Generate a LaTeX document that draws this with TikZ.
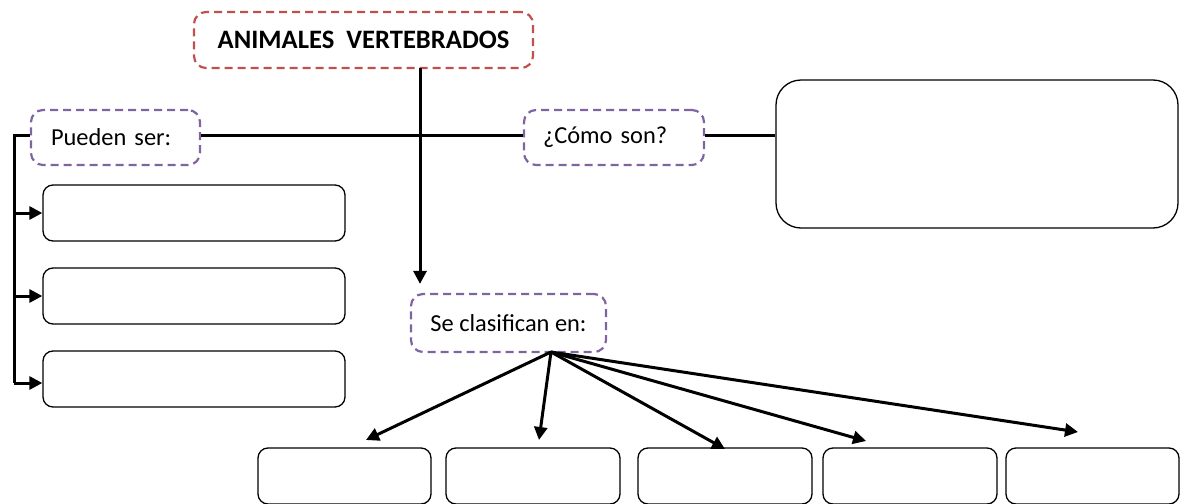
\documentclass[tikz,border=0pt]{standalone}
\usepackage{fontspec}
\setmainfont{Carlito}
\usetikzlibrary{arrows.meta}
\definecolor{rojo}{RGB}{192,80,77}
\definecolor{morado}{RGB}{128,100,162}
\begin{document}
\begin{tikzpicture}[x=0.5pt,y=-0.5pt,
    font=\fontsize{12.2}{14}\selectfont,
    titulo/.style={draw=rojo,line width=1.1pt,dash pattern=on 4pt off 2.5pt,rounded corners=6pt,
        minimum width=169.5pt,minimum height=28pt,font=\fontsize{13.3}{15}\selectfont\bfseries},
    etiqueta/.style={draw=morado,line width=1.1pt,dash pattern=on 4pt off 2.5pt,rounded corners=6pt,
        minimum height=27.5pt,align=left},
    caja/.style={draw,line width=0.65pt,rounded corners=5pt,minimum width=#1,minimum height=28pt},
    flecha/.style={line width=1.5pt,-{Triangle[length=6.5pt,width=6.5pt]}},
    linea/.style={line width=1.5pt}]
        \useasboundingbox (0,0) rectangle (1180,504);
        \node[titulo] (Titulo) at (363.5,40) {ANIMALES\ \ VERTEBRADOS};
        \node[etiqueta,minimum width=84.5pt,text width=64.5pt] (Pueden) at (115.5,137.5) {Pueden ser:};
        \node[etiqueta,minimum width=90pt,text width=71pt] (Como) at (614,137.5) {¿Cómo son?};
        \node[etiqueta,minimum width=97.5pt,minimum height=29pt,align=center] (Clasif) at (508.5,323) {Se clasifican en:};
        \node[caja=201pt,minimum height=74pt,rounded corners=12.5pt] (Desc) at (977,154) {};
        \node[caja=151pt] (Tipo1) at (194,213) {};
        \node[caja=151pt] (Tipo2) at (194,296) {};
        \node[caja=151pt] (Tipo3) at (194,379) {};
        \node[caja=86.5pt] (Clase1) at (344.5,476) {};
        \node[caja=87pt] (Clase2) at (533,476) {};
        \node[caja=87pt] (Clase3) at (725,476) {};
        \node[caja=87pt] (Clase4) at (910,476) {};
        \node[caja=86.5pt] (Clase5) at (1092.5,476) {};
        \coordinate (Tronco) at (420,68);
        \coordinate (LlaveArriba) at (14,135);
        \coordinate (LlaveAbajo) at (14,383);
        \coordinate (Abanico) at (551,352);
        \coordinate (Punta1) at (366,440);
        \coordinate (Punta2) at (539,440);
        \coordinate (Punta3) at (725,449);
        \coordinate (Punta4) at (866,441);
        \coordinate (Punta5) at (1078,432);
        \draw[flecha,shorten >=4.5pt] (Tronco) -- (Tronco |- Clasif.north);
        \draw[linea] (Pueden.east |- LlaveArriba) -- (Como.west |- LlaveArriba);
        \draw[linea] (Como.east |- LlaveArriba) -- (Desc.west |- LlaveArriba);
        \draw[linea] (Pueden.west |- LlaveArriba) -- (LlaveArriba) -- (LlaveAbajo);
        \draw[flecha] (LlaveArriba |- Tipo1.west) -- (Tipo1.west);
        \draw[flecha] (LlaveArriba |- Tipo2.west) -- (Tipo2.west);
        \draw[flecha] (LlaveAbajo) -- (LlaveAbajo -| Tipo3.west);
        \draw[flecha] (Abanico) -- (Punta1);
        \draw[flecha] (Abanico) -- (Punta2);
        \draw[flecha] (Abanico) -- (Punta3);
        \draw[flecha] (Abanico) -- (Punta4);
        \draw[flecha] (Abanico) -- (Punta5);
    \end{tikzpicture}
\end{document}
